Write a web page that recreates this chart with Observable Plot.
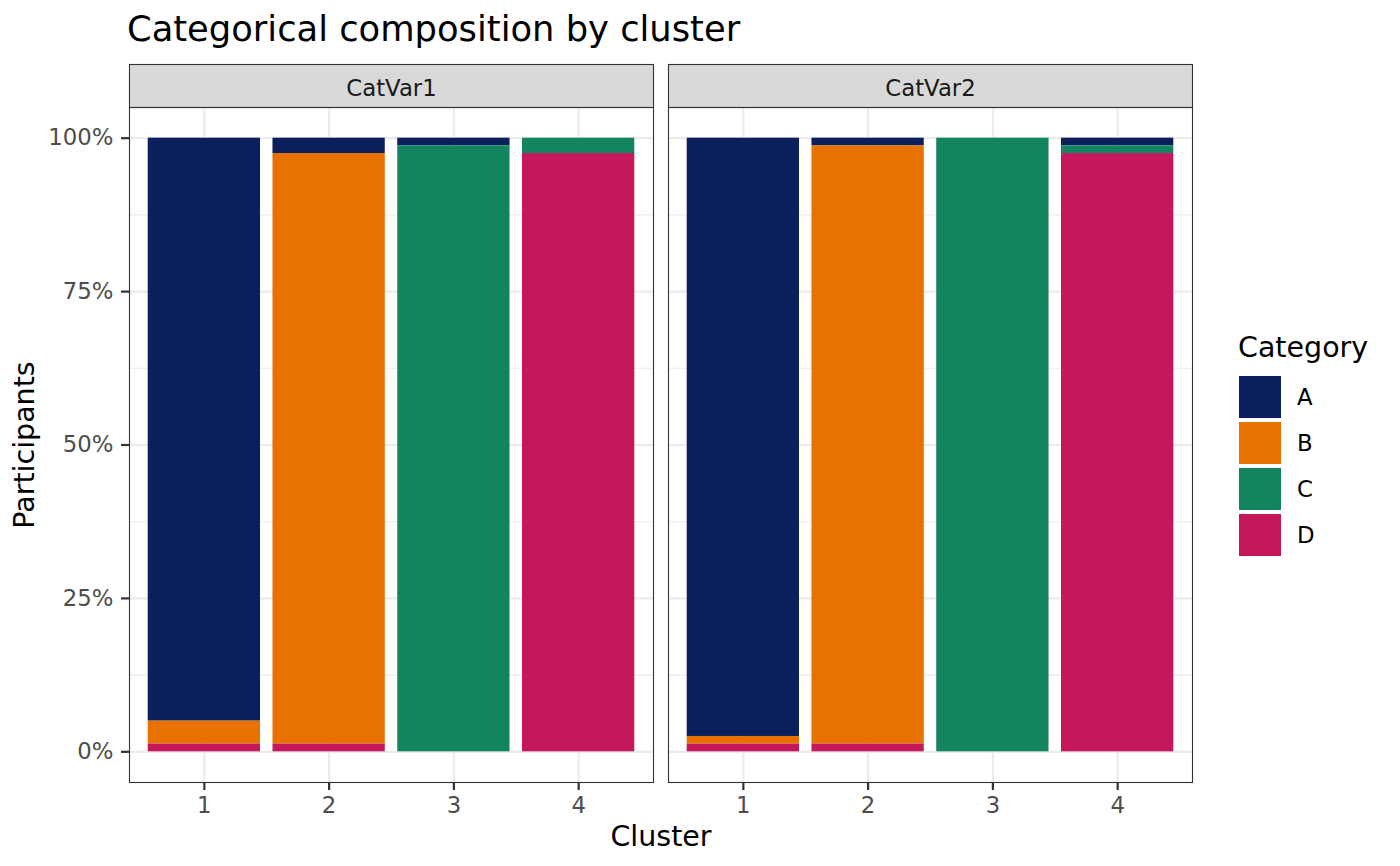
<!DOCTYPE html>
<html>
<head>
<meta charset="utf-8">
<script src="https://cdn.jsdelivr.net/npm/d3@7"></script>
<script src="https://cdn.jsdelivr.net/npm/@observablehq/plot@0.6"></script>
<style>
  html, body { margin: 0; padding: 0; background: #ffffff; }
  #wrap { position: relative; width: 1400px; height: 866px; font-family: "DejaVu Sans", sans-serif; overflow: hidden; }
  #title { position: absolute; left: 127px; top: 8px; font-size: 35.3px; color: #000; white-space: nowrap; }
  #chart { position: absolute; left: 0; top: 56px; }
  #legend { position: absolute; left: 1238px; top: 331px; }
  #legend .ltitle { font-size: 28.5px; color: #000; margin-bottom: 12px; }
  #legend .item { display: flex; align-items: center; height: 42px; margin-bottom: 4px; }
  #legend .sw { width: 42px; height: 42px; margin-left: 1px; }
  #legend .lab { font-size: 22.8px; color: #000; margin-left: 16px; }
  g[aria-label="y-axis label"] text, g[aria-label="x-axis label"] text { font-size: 28.5px; fill: #000; }
  g[aria-label="y-axis tick label"] text, g[aria-label="x-axis tick label"] text { font-size: 22.8px; fill: #4d4d4d; }
  g[aria-label="fx-axis tick label"] text { font-size: 22.8px; fill: #1a1a1a; }
</style>
</head>
<body>
<div id="wrap">
  <div id="title">Categorical composition by cluster</div>
  <div id="chart"></div>
  <div id="legend"></div>
</div>
<script>
// ---- data (percent of participants) ----
const variables = ["CatVar1", "CatVar2"];
const clusters = ["1", "2", "3", "4"];
const categories = ["A", "B", "C", "D"];
const categoryColors = ["#0b1f5c", "#e87200", "#148460", "#c4185b"];

// CatVar1 shares by category, per cluster 1..4
const catVar1A = [95.0, 2.5, 1.25, 0];
const catVar1B = [3.75, 96.25, 0, 0];
const catVar1C = [0, 0, 98.75, 2.5];
const catVar1D = [1.25, 1.25, 0, 97.5];
// CatVar2 shares by category, per cluster 1..4
const catVar2A = [97.5, 1.25, 0, 1.25];
const catVar2B = [1.25, 97.5, 0, 0];
const catVar2C = [0, 0, 100, 1.25];
const catVar2D = [1.25, 1.25, 0, 97.5];

const yTicks = [0, 0.25, 0.5, 0.75, 1];
const yMinorTicks = [0.125, 0.375, 0.625, 0.875];

const seriesByVar = {
  CatVar1: [catVar1A, catVar1B, catVar1C, catVar1D],
  CatVar2: [catVar2A, catVar2B, catVar2C, catVar2D]
};
const data = [];
for (const v of variables) {
  seriesByVar[v].forEach((vals, ci) => {
    vals.forEach((p, k) => {
      data.push({variable: v, cluster: clusters[k], category: categories[ci], share: p / 100});
    });
  });
}
const stackOrder = categories.slice().reverse();

const W = 1400, H = 810;
const mTop = 51, mBottom = 84, mLeft = 129, mRight = 208;
const innerH = H - mTop - mBottom;

const chart = Plot.plot({
  width: W,
  height: H,
  marginTop: mTop,
  marginBottom: mBottom,
  marginLeft: mLeft,
  marginRight: mRight,
  style: {fontFamily: "DejaVu Sans, sans-serif", fontSize: "22.8px", background: "#ffffff"},
  fx: {domain: variables, paddingInner: 0.0278, paddingOuter: 0, round: false},
  x: {domain: clusters, paddingInner: 0.1, paddingOuter: 0.15, round: false},
  y: {domain: [-0.05, 1.05]},
  color: {domain: categories, range: categoryColors},
  marks: [
    // strip header (grey box above each panel)
    Plot.frame({fill: "#d9d9d9", stroke: "#333333", strokeWidth: 1.1, insetTop: -43, insetBottom: innerH}),
    Plot.gridY(yMinorTicks, {stroke: "#ebebeb", strokeOpacity: 1, strokeWidth: 1.1}),
    Plot.gridY(yTicks, {stroke: "#ebebeb", strokeOpacity: 1, strokeWidth: 2.2}),
    Plot.gridX(clusters, {stroke: "#ebebeb", strokeOpacity: 1, strokeWidth: 2.2}),
    Plot.barY(data, Plot.stackY({fx: "variable", x: "cluster", y: "share", fill: "category", order: stackOrder})),
    Plot.frame({stroke: "#333333", strokeWidth: 1.1}),
    Plot.axisFx({anchor: "top", tickSize: 0, tickPadding: 12, label: null}),
    Plot.axisY(yTicks, {
      anchor: "left", tickSize: 8, tickPadding: 8, stroke: "#333333", strokeWidth: 2.2,
      tickFormat: d => `${Math.round(d * 100)}%`,
      label: "Participants", labelAnchor: "center", labelArrow: "none", labelOffset: 116
    }),
    Plot.axisX(clusters, {
      anchor: "bottom", tickSize: 8, tickPadding: 6, stroke: "#333333", strokeWidth: 2.2,
      label: "Cluster", labelAnchor: "center", labelArrow: "none", labelOffset: 63
    })
  ]
});
document.getElementById("chart").appendChild(chart);

// legend
const legend = d3.select("#legend");
legend.append("div").attr("class", "ltitle").text("Category");
const items = legend.selectAll("div.item").data(categories).join("div").attr("class", "item");
items.append("div").attr("class", "sw").style("background", (d, i) => categoryColors[i]);
items.append("div").attr("class", "lab").text(d => d);
</script>
</body>
</html>
